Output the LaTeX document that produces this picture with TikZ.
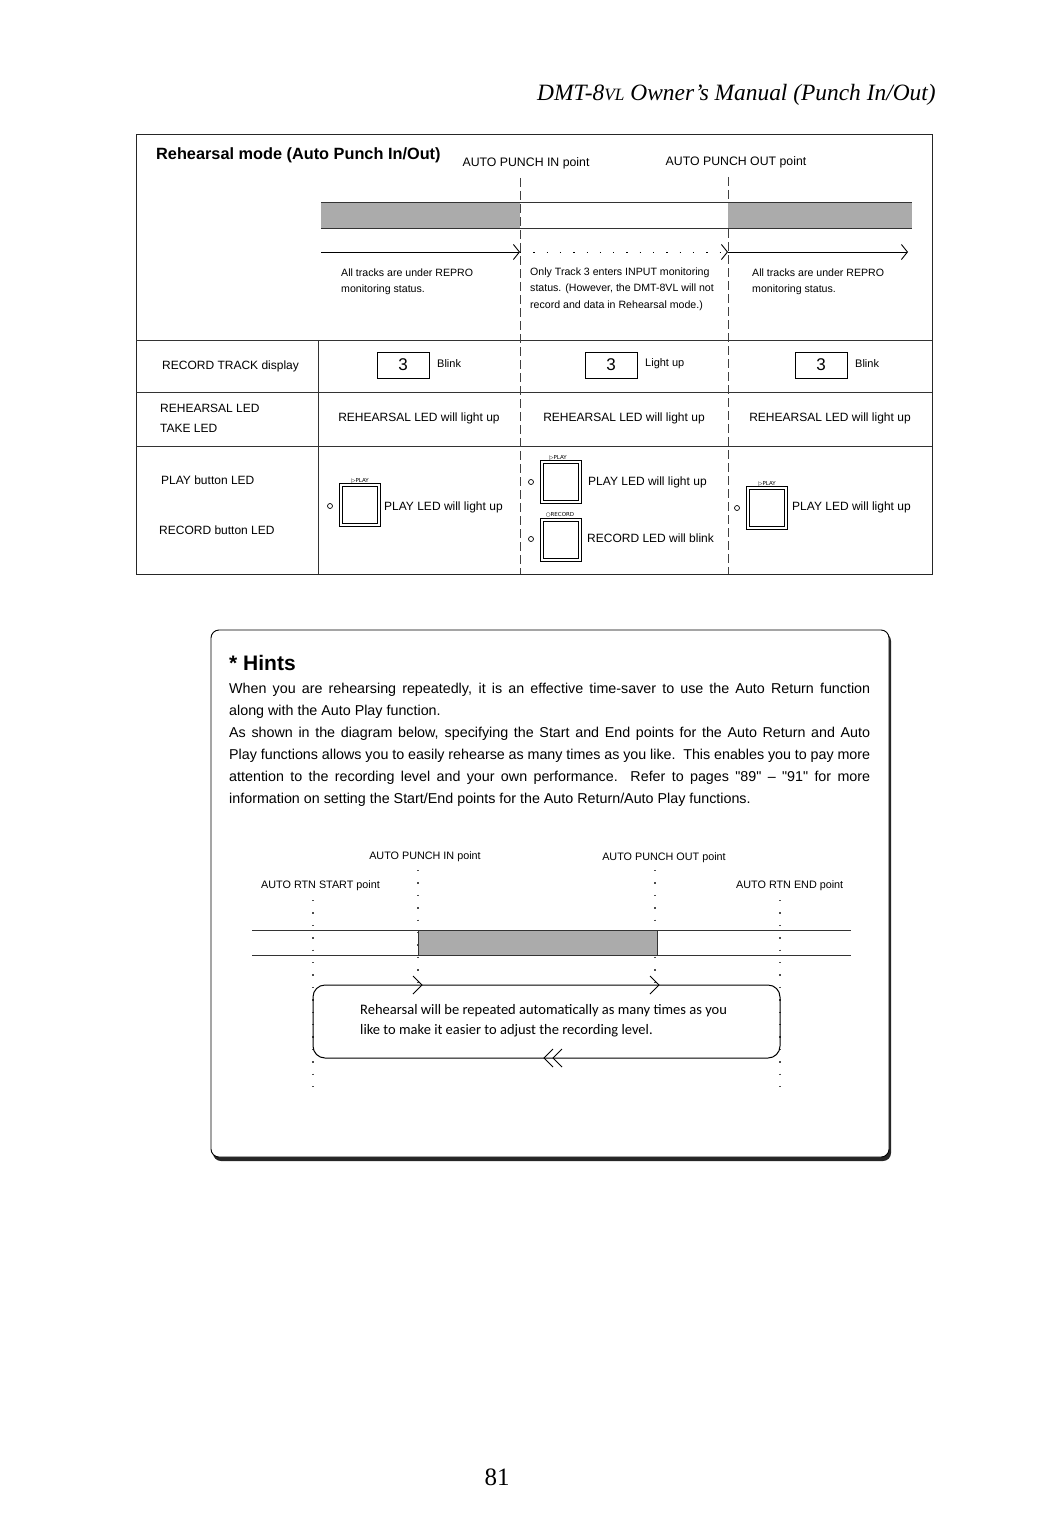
\documentclass[tikz,border=0pt]{standalone}
\usepackage{fontspec}
\setmainfont{Liberation Sans}
\newfontfamily\serifit{Liberation Serif}
\newfontfamily\carl{Carlito}
\newfontfamily\dejavu{DejaVu Sans}
\usetikzlibrary{arrows.meta}
\begin{document}
\begin{tikzpicture}[x=1pt,y=-1pt,
  txt/.style={inner sep=0pt, anchor=west},
  rowlbl/.style={txt, font=\fontsize{12}{14}\selectfont},
  ctr/.style={inner sep=0pt, font=\fontsize{12}{14}\selectfont},
  small/.style={txt, align=left, font=\fontsize{10.6}{16.5}\selectfont},
  tiny/.style={inner sep=0pt, font=\dejavu\fontsize{5.5}{6}\selectfont},
  numbox/.style={draw, line width=0.8pt, minimum width=52pt, minimum height=26pt, inner sep=0pt, font=\fontsize{17}{17}\selectfont},
  btn/.style={draw, double, double distance=1.5pt, line width=0.8pt, minimum width=38pt, minimum height=40pt, inner sep=0pt},
  led/.style={circle, draw, line width=0.7pt, inner sep=0pt, minimum size=5pt},
  frame/.style={line width=1pt, black!85},
  rule/.style={line width=0.9pt, black!80},
  vdash/.style={line width=0.9pt, black!75, dash pattern=on 9pt off 4pt},
  dots/.style={line width=1.4pt, black!70, dash pattern=on 1.4pt off 11pt},
  arr/.style={line width=0.9pt, -{Straight Barb[length=6pt,width=15pt,line width=0.9pt]}},
  chev/.style={line width=1pt},
  shade/.style={fill=black!33},
  hint/.style={txt, font=\fontsize{14.3}{16}\selectfont}
]
\useasboundingbox (0,0) rectangle (1051,1517);

% header
\node[txt, font=\serifit\itshape\fontsize{23.4}{25}\selectfont] (hdr) at (537,95) {DMT-8{\fontsize{17.3}{17}\selectfont VL} Owner’s Manual (Punch In/Out)};

% ===== top table =====
\draw[frame] (136,135) rectangle (932,574);
\draw[rule] (136,340) -- (932,340);
\draw[rule] (136,392) -- (932,392);
\draw[rule] (136,446) -- (932,446);
\draw[rule] (318,340) -- (318,574);
\draw[vdash] (520,178) -- (520,574);
\draw[vdash] (728,177) -- (728,574);

\node[txt, font=\bfseries\fontsize{16.3}{18}\selectfont] (title) at (156,155) {Rehearsal mode (Auto Punch In/Out)};
\node[inner sep=0pt, font=\fontsize{12.3}{14}\selectfont] (pin) at (526,163) {AUTO PUNCH IN point};
\node[inner sep=0pt, font=\fontsize{12.3}{14}\selectfont] (pout) at (736,162) {AUTO PUNCH OUT point};

% band
\fill[shade] (321,202) rectangle (520,228);
\fill[shade] (728,202) rectangle (912,228);
\draw[rule] (321,202) -- (912,202);
\draw[rule] (321,228) -- (912,228);

% arrows
\coordinate (a0) at (321,252);
\coordinate (a1) at (520,252);
\coordinate (a2) at (728,252);
\coordinate (a3) at (908,252);
\draw[arr] (a0) -- (a1);
\draw[arr, dash pattern=on 1.3pt off 12pt] (a1) -- (a2);
\draw[arr] (a2) -- (a3);

\node[small] (t1) at (341,282) {All tracks are under REPRO\\monitoring status.};
\node[small] (t2) at (530,289) {Only Track 3 enters INPUT monitoring\\status. (However, the DMT-8VL will not\\record and data in Rehearsal mode.)};
\node[small] (t3) at (752,282) {All tracks are under REPRO\\monitoring status.};

% row 1
\node[rowlbl] (r1) at (162,366) {RECORD TRACK display};
\node[numbox] (n1) at (403,365) {3};
\node[numbox] (n2) at (611,365) {3};
\node[numbox] (n3) at (821,365) {3};
\node[txt, font=\fontsize{11}{13}\selectfont] (b1) at (437,364) {Blink};
\node[txt, font=\fontsize{11}{13}\selectfont] (b2) at (645,364) {Light up};
\node[txt, font=\fontsize{11}{13}\selectfont] (b3) at (855,364) {Blink};

% row 2
\node[rowlbl, align=left, font=\fontsize{12}{20}\selectfont] (r2) at (160,418) {REHEARSAL LED\\TAKE LED};
\node[ctr] (c1) at (419,418) {REHEARSAL LED will light up};
\node[ctr] (c2) at (624,418) {REHEARSAL LED will light up};
\node[ctr] (c3) at (830,418) {REHEARSAL LED will light up};

% row 3
\node[rowlbl] (r3a) at (161,480) {PLAY button LED};
\node[rowlbl] (r3b) at (159,530) {RECORD button LED};

\node[btn] (p1) at (360,505) {};
\node[tiny] (p1l) at (360,481) {▷PLAY};
\node[led] (l1) at (330,506) {};
\node[rowlbl] (p1t) at (384,507) {PLAY LED will light up};

\node[btn] (p2) at (561,482) {};
\node[tiny] (p2l) at (558,458) {▷PLAY};
\node[led] (l2) at (531,482) {};
\node[rowlbl] (p2t) at (588,482) {PLAY LED will light up};

\node[btn] (rc2) at (561,540) {};
\node[tiny] (rc2l) at (560,515) {○RECORD};
\node[led] (l3) at (531,539) {};
\node[rowlbl] (rc2t) at (587,538) {RECORD LED will blink};

\node[btn] (p3) at (767,508) {};
\node[tiny] (p3l) at (767,484) {▷PLAY};
\node[led] (l4) at (737,508) {};
\node[rowlbl] (p3t) at (792,507) {PLAY LED will light up};

% ===== hints box =====
\fill[black!85, rounded corners=8pt] (213,633) rectangle (891,1161);
\draw[fill=white, rounded corners=8pt, line width=0.9pt] (211,630) rectangle (889,1157);

\node[txt, font=\bfseries\fontsize{21}{23}\selectfont] (hints) at (229,663) {* Hints};
\node[hint] (h1) at (229,690) {\makebox[641pt][s]{When you are rehearsing repeatedly, it is an effective time-saver to use the Auto Return function}};
\node[hint] (h2) at (229,712) {along with the Auto Play function.};
\node[hint] (h3) at (229,734) {\makebox[641pt][s]{As shown in the diagram below, specifying the Start and End points for the Auto Return and Auto}};
\node[hint] (h4) at (229,756) {\makebox[641pt][s]{Play functions allows you to easily rehearse as many times as you like.\ \ This enables you to pay more}};
\node[hint] (h5) at (229,778) {\makebox[641pt][s]{attention to the recording level and your own performance.\ \ Refer to pages \textquotedbl 89\textquotedbl\ – \textquotedbl 91\textquotedbl\ for more}};
\node[hint] (h6) at (229,800) {information on setting the Start/End points for the Auto Return/Auto Play functions.};

% bottom diagram
\node[inner sep=0pt, font=\fontsize{10.8}{12}\selectfont] (bin) at (425,857) {AUTO PUNCH IN point};
\node[inner sep=0pt, font=\fontsize{10.8}{12}\selectfont] (bout) at (664,858) {AUTO PUNCH OUT point};
\node[txt, font=\fontsize{10.8}{12}\selectfont] (bst) at (261,886) {AUTO RTN START point};
\node[txt, font=\fontsize{10.8}{12}\selectfont] (ben) at (736,886) {AUTO RTN END point};

\draw[dots] (313,900) -- (313,1095);
\draw[dots] (780,900) -- (780,1095);
\draw[dots] (418,870) -- (418,985);
\draw[dots] (655,870) -- (655,985);

\fill[shade] (418,930) rectangle (657,955);
\draw[rule] (252,930) -- (851,930);
\draw[rule] (252,955) -- (851,955);
\draw[rule] (418,930) -- (418,955);
\draw[rule] (657,930) -- (657,955);

\draw[line width=1pt, rounded corners=12pt] (313,985) rectangle (780,1058);
\draw[chev] (413,976) -- (422,985) -- (413,994);
\draw[chev] (650,976) -- (659,985) -- (650,994);
\draw[chev] (553,1049) -- (544,1058) -- (553,1067);
\draw[chev] (562,1049) -- (553,1058) -- (562,1067);

\node[txt, align=left, font=\carl\fontsize{14.5}{20}\selectfont] (loop) at (360,1021) {Rehearsal will be repeated automatically as many times as you\\like to make it easier to adjust the recording level.};

% page number
\node[inner sep=0pt, font=\serifit\fontsize{25}{27}\selectfont] (pg) at (497,1477) {81};
\end{tikzpicture}
\end{document}
